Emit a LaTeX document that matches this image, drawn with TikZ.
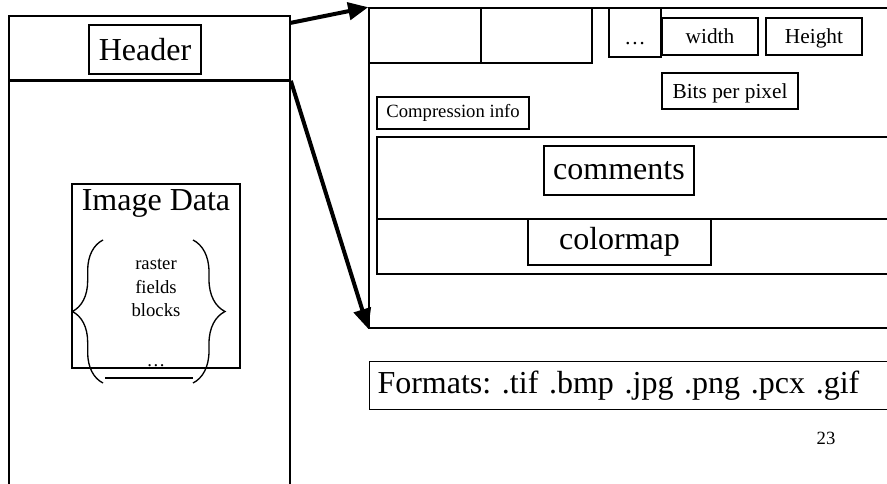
\documentclass[tikz,border=0pt]{standalone}
\usepackage{fontspec}
\setmainfont{Liberation Serif}
\frenchspacing
\usetikzlibrary{fit,arrows.meta,decorations.pathreplacing}
\begin{document}
\begin{tikzpicture}[
    x=0.75pt, y=-0.75pt,
    panel/.style={draw, line width=1.2pt, inner sep=0pt},
    box/.style={draw, line width=0.8pt, inner sep=0pt},
    sized/.style 2 args={minimum width=#1*0.75pt, minimum height=#2*0.75pt},
    big/.style={font=\fontsize{24}{28}\selectfont},
    small/.style={font=\fontsize{16}{19}\selectfont, text height=12pt, text depth=1pt},
    tiny/.style={font=\fontsize{14}{17}\selectfont},
    arrow/.style={-{Triangle[length=15pt,width=13pt]}, line width=3pt},
    curly/.style={decorate, line width=1pt}
]
    \useasboundingbox (0,0) rectangle (887,484);
    \clip (0,0) rectangle (887,484);

    % File layout on the left
    \node[panel, fit={(9,16) (290,80)}] (hdrpanel) {};
    \node[panel, fit={(9,80) (290,500)}] (datapanel) {};
    \draw[line width=2.2pt] (hdrpanel.south west) -- (hdrpanel.south east);
    \node[box, big, sized={112}{49}] (header) at (145,49.5) {Header};

    % Image data with its parts
    \node[box, fit={(72,184) (240,368)}] (imgdata) {};
    \node[big] (imgtitle) at (156,203) {Image Data};
    \node[align=center, font=\fontsize{14}{17.6}\selectfont] (items) at (156,313)
        {raster\\fields\\blocks\\[20pt]\ldots};
    \draw[curly, decoration={brace, amplitude=23pt}] (103,383) -- (103,240);
    \draw[curly, decoration={brace, amplitude=24pt}] (193,240) -- (193,383);
    \draw[line width=1pt] (105,378) -- (193,378);

    % Header fields on the right
    \node[panel, fit={(369,8) (900,328)}] (fields) {};
    \node[box, fit={(369,8) (481,63)}] (cella) {};
    \node[box, fit={(481,8) (592,63)}] (cellb) {};
    \node[box, small, sized={52}{49}, text height=18pt, text depth=0pt] (more) at (635,32.5) {\ldots};
    \node[box, small, sized={96}{37}] (width) at (710,36.5) {width};
    \node[box, small, sized={96}{37}] (height) at (814,36.5) {Height};
    \node[box, small, sized={136}{36}] (bpp) at (730,91) {Bits per pixel};
    \node[box, tiny, sized={152}{32}] (compress) at (453,113) {Compression info};
    \node[box, fit={(377,137) (900,219)}] (notesrow) {};
    \node[box, fit={(377,219) (900,274)}] (maprow) {};
    \node[box, big, sized={150}{49}] (comments) at (619,170.5) {comments};
    \node[box, big, sized={183}{46}] (colormap) at (619.5,242) {colormap};

    % Arrows
    \coordinate (hdrtop) at (290,23);
    \draw[arrow] (hdrtop) -- (fields.north west);
    \draw[arrow] (hdrpanel.south east) -- (fields.south west);

    % Formats and page number
    \node[box, big, anchor=north west, minimum height=36pt, text width=392pt,
          inner xsep=6pt, align=left] (formats) at (369,361)
        {Formats: .tif .bmp .jpg .png .pcx .gif};
    \node[tiny] (page) at (826,438) {23};
\end{tikzpicture}
\end{document}
